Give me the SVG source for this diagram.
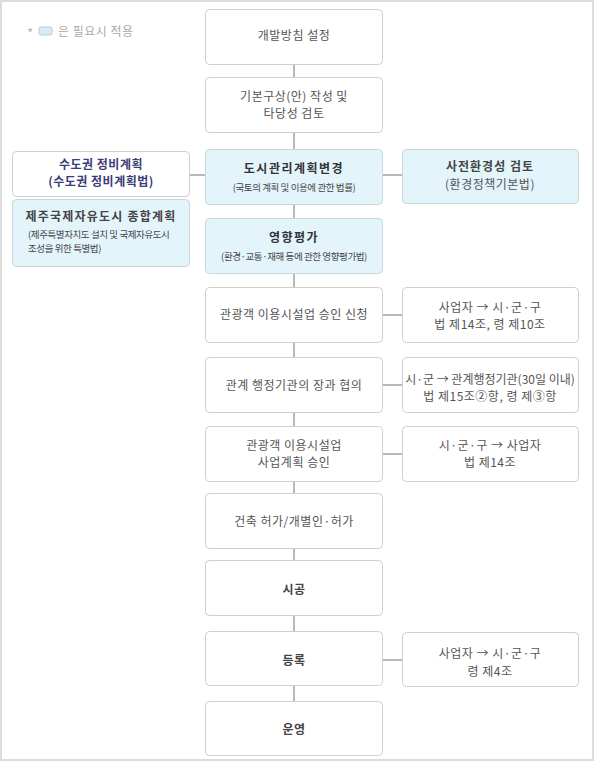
<svg xmlns="http://www.w3.org/2000/svg" width="595" height="762" viewBox="0 0 595 762">
<defs>
<style>
.box{fill:#ffffff;stroke:#cfcfcf;stroke-width:1}
.blue{fill:#e3f4fb;stroke:#c9d6dd;stroke-width:1}
.t{font-family:"Noto Sans CJK KR","Noto Sans",sans-serif;font-size:12px;fill:#555;text-anchor:middle;letter-spacing:0.5px}
.b{font-weight:bold;fill:#444}
.s{font-family:"Noto Sans CJK KR","Noto Sans",sans-serif;font-size:9.5px;fill:#444;text-anchor:middle;letter-spacing:-0.4px}
.navy{fill:#3c3c78}
.conn{stroke:#b8b8b8;stroke-width:2;fill:none}
</style>
</defs>
<rect x="1" y="1" width="592" height="759" fill="#fff" stroke="#dcdcdc" stroke-width="2"/>
<g id="legend">
<text x="28" y="36" style="font-family:'Liberation Sans',sans-serif;font-size:11px;fill:#999">*</text>
<rect x="39" y="27" width="13" height="8" rx="2" fill="#d6ebf4" stroke="#b9cdd6" stroke-width="1"/>
<text x="58" y="36" style="font-family:'Noto Sans CJK KR',sans-serif;font-size:12px;fill:#aaa;letter-spacing:0.5px">은 필요시 적용</text>
</g>
<g id="connectors">
<line class="conn" x1="294" y1="64" x2="294" y2="701"/>
<line class="conn" x1="189" y1="175" x2="205" y2="175"/>
<line class="conn" x1="382" y1="175" x2="402" y2="175"/>
<line class="conn" x1="382" y1="315" x2="402" y2="315"/>
<line class="conn" x1="382" y1="385" x2="402" y2="385"/>
<line class="conn" x1="382" y1="454" x2="402" y2="454"/>
<line class="conn" x1="382" y1="660" x2="402" y2="660"/>
</g>
<g id="n1"><rect class="box" x="205.5" y="9.5" width="177" height="55" rx="4"/><text class="t" x="294" y="40">개발방침 설정</text></g>
<g id="n2"><rect class="box" x="205.5" y="77.5" width="177" height="55" rx="4"/><text class="t" x="294" y="101">기본구상(안) 작성 및</text><text class="t" x="294" y="118">타당성 검토</text></g>
<g id="n3"><rect class="blue" x="205.5" y="149.5" width="177" height="55" rx="4"/><text class="t b" x="294" y="173" style="letter-spacing:1.5px;fill:#333">도시관리계획변경</text><text class="s" x="294" y="191">(국토의 계획 및 이용에 관한 법률)</text></g>
<g id="n4"><rect class="blue" x="205.5" y="218.5" width="177" height="55" rx="4"/><text class="t b" x="294" y="242" style="letter-spacing:1.5px;fill:#333">영향평가</text><text class="s" x="294" y="260">(환경·교통·재해 등에 관한 영향평가법)</text></g>
<g id="l1"><rect class="box" x="12.5" y="151.5" width="177" height="45" rx="4"/><text class="t b navy" x="101" y="169">수도권 정비계획</text><text class="t b navy" x="101" y="186">(수도권 정비계획법)</text></g>
<g id="l2"><rect class="blue" x="12.5" y="199.5" width="177" height="67" rx="4"/><text class="t b" x="101" y="221" style="letter-spacing:1.2px">제주국제자유도시 종합계획</text><text class="s" x="28" y="238" style="text-anchor:start">(제주특별자치도 설치 및 국제자유도시</text><text class="s" x="28" y="252" style="text-anchor:start">조성을 위한 특별법)</text></g>
<g id="r0"><rect class="blue" x="402.5" y="149.5" width="176" height="54" rx="4"/><text class="t b" x="490" y="171" style="letter-spacing:1px">사전환경성 검토</text><text class="t" x="490" y="189">(환경정책기본법)</text></g>
<g id="n5"><rect class="box" x="205.5" y="287.5" width="177" height="55" rx="4"/><text class="t" x="294" y="319">관광객 이용시설업 승인 신청</text></g>
<g id="r1"><rect class="box" x="402.5" y="287.5" width="176" height="55" rx="4"/><text class="t" x="490" y="312">사업자 → 시·군·구</text><text class="t" x="490" y="329">법 제14조, 령 제10조</text></g>
<g id="n6"><rect class="box" x="205.5" y="357.5" width="177" height="55" rx="4"/><text class="t" x="294" y="390">관계 행정기관의 장과 협의</text></g>
<g id="r2"><rect class="box" x="402.5" y="357.5" width="176" height="55" rx="4"/><text class="t" x="490" y="384" style="letter-spacing:0">시·군 → 관계행정기관(30일 이내)</text><text class="t" x="490" y="401">법 제15조②항, 령 제③항</text></g>
<g id="n7"><rect class="box" x="205.5" y="426.5" width="177" height="55" rx="4"/><text class="t" x="294" y="450">관광객 이용시설업</text><text class="t" x="294" y="467">사업계획 승인</text></g>
<g id="r3"><rect class="box" x="402.5" y="426.5" width="176" height="55" rx="4"/><text class="t" x="490" y="450">시·군·구 → 사업자</text><text class="t" x="490" y="467">법 제14조</text></g>
<g id="n8"><rect class="box" x="205.5" y="493.5" width="177" height="55" rx="4"/><text class="t" x="294" y="526">건축 허가/개별인·허가</text></g>
<g id="n9"><rect class="box" x="205.5" y="560.5" width="177" height="55" rx="4"/><text class="t b" x="294" y="594">시공</text></g>
<g id="n10"><rect class="box" x="205.5" y="631.5" width="177" height="54" rx="4"/><text class="t b" x="294" y="665">등록</text></g>
<g id="r4"><rect class="box" x="402.5" y="632.5" width="176" height="54" rx="4"/><text class="t" x="490" y="658">사업자 → 시·군·구</text><text class="t" x="490" y="676">령 제4조</text></g>
<g id="n11"><rect class="box" x="205.5" y="701.5" width="177" height="54" rx="4"/><text class="t b" x="294" y="734">운영</text></g>
</svg>
